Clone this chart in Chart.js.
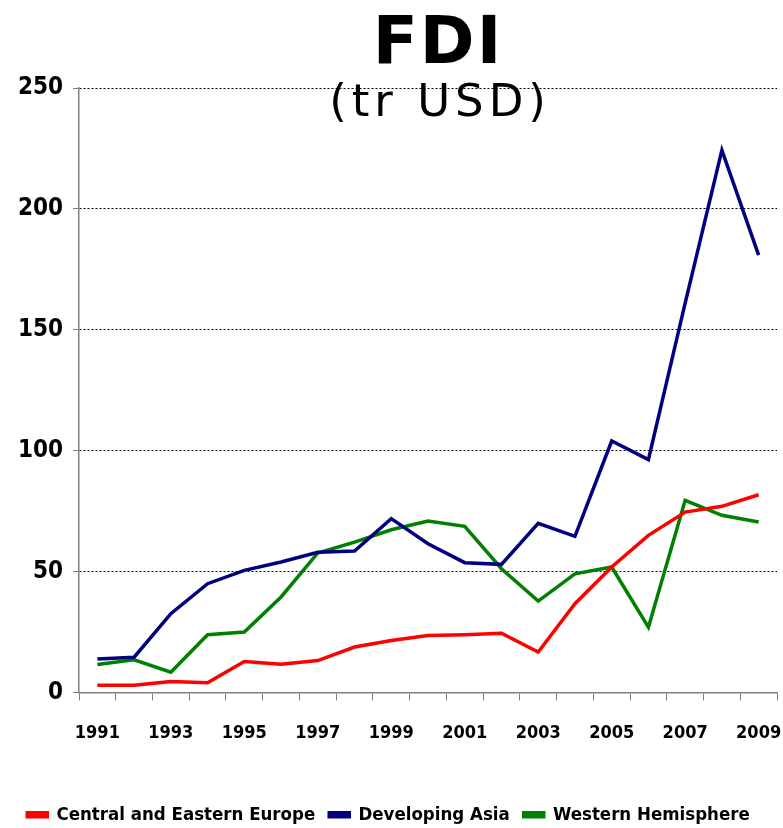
<!DOCTYPE html>
<html>
<head>
<meta charset="utf-8">
<script src="https://cdn.jsdelivr.net/npm/chart.js@4.4.0/dist/chart.umd.min.js"></script>
<style>
  html, body { margin: 0; padding: 0; background: #fff; }
  #wrap { width: 783px; height: 828px; }
</style>
</head>
<body>
<div id="wrap"><canvas id="fdiChart"></canvas></div>
<script>
// Donnees (milliards USD)
const years = ['1991','1992','1993','1994','1995','1996','1997','1998','1999','2000',
               '2001','2002','2003','2004','2005','2006','2007','2008','2009'];
const centralEasternEurope = [3, 3, 4.5, 4, 12.8, 11.7, 13.2, 18.8, 21.5, 23.6,
                              23.9, 24.5, 16.7, 36.7, 51.9, 65, 74.6, 77, 81.8];
const developingAsia = [13.9, 14.6, 32.6, 45, 50.5, 54, 58, 58.5, 71.9, 61.5,
                        53.7, 53, 70, 64.6, 104, 96.3, 161, 224.3, 180.9];
const westernHemisphere = [11.6, 13.5, 8.4, 23.9, 25, 39.5, 57.7, 62.2, 67.3, 70.9,
                           68.7, 51.2, 37.8, 49.1, 51.9, 27, 79.5, 73.3, 70.5];
const yTicks = [0, 50, 100, 150, 200, 250];

const NARROW = "'DejaVu Sans Condensed', 'Liberation Sans Narrow', sans-serif";

// Titre dessine par-dessus la zone de trace (comme dans l'original)
const titlePlugin = {
  id: 'fdiTitle',
  afterDraw(chart) {
    const ctx = chart.ctx;
    ctx.save();
    ctx.fillStyle = '#000';
    ctx.textAlign = 'center';
    ctx.textBaseline = 'alphabetic';
    ctx.font = "bold 66px 'DejaVu Sans', Verdana, sans-serif";
    ctx.letterSpacing = '2px';
    ctx.fillText('FDI', 438, 63);
    ctx.font = "45px 'DejaVu Sans', Verdana, sans-serif";
    ctx.letterSpacing = '5px';
    ctx.fillText('(tr USD)', 440, 116);
    ctx.restore();
  },
};

function lineDataset(label, data, color) {
  return {
    label: label,
    data: data,
    borderColor: color,
    backgroundColor: color,
    borderWidth: 3.5,
    pointRadius: 0,
    tension: 0,
  };
}

new Chart(document.getElementById('fdiChart'), {
  type: 'line',
  data: {
    labels: years,
    datasets: [
      lineDataset('Central and Eastern Europe', centralEasternEurope, '#FF0000'),
      lineDataset('Developing Asia', developingAsia, '#000080'),
      lineDataset('Western Hemisphere', westernHemisphere, '#008000'),
    ],
  },
  options: {
    responsive: true,
    maintainAspectRatio: false,
    animation: false,
    layout: { padding: { top: 88, right: 6, left: 0, bottom: -6 } },
    plugins: {
      title: { display: false },
      tooltip: { enabled: false },
      legend: {
        position: 'bottom',
        labels: {
          color: '#000',
          font: { family: NARROW, size: 18.5, weight: 'bold' },
          boxWidth: 20,
          boxHeight: 4,
          padding: 14,
        },
      },
    },
    scales: {
      x: {
        offset: true,
        border: { display: true, color: '#808080', width: 1.5 },
        grid: {
          offset: true,
          drawOnChartArea: false,
          drawTicks: true,
          tickLength: 8,
          tickColor: '#808080',
        },
        ticks: {
          autoSkip: false,
          maxRotation: 0,
          padding: 22,
          color: '#000',
          font: { family: NARROW, size: 18, weight: 'bold' },
          callback: (v, i) => (i % 2 === 0 ? years[i] : ''), // une annee sur deux
        },
        afterFit: (scale) => {
          scale.height = 99;
          scale.paddingLeft = 0;
          scale.paddingRight = 0;
        },
      },
      y: {
        min: 0,
        max: 250,
        afterBuildTicks: (scale) => { scale.ticks = yTicks.map(v => ({ value: v })); },
        border: { display: true, color: '#808080', width: 1.5, dash: [2, 2] },
        grid: {
          color: (c) => (c.tick && c.tick.value === 0 ? 'rgba(0,0,0,0)' : '#000'),
          tickColor: '#808080',
          tickBorderDash: [],
          tickLength: 6,
          lineWidth: 1,
        },
        ticks: {
          padding: 10,
          color: '#000',
          font: { family: NARROW, size: 24, weight: 'bold' },
        },
        afterFit: (scale) => { scale.width = 79; },
      },
    },
  },
  plugins: [titlePlugin],
});
</script>
</body>
</html>
